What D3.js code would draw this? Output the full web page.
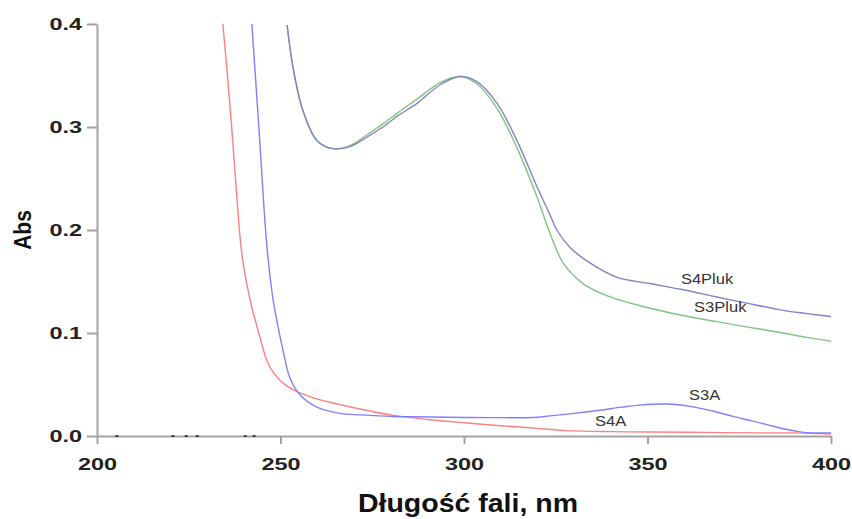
<!DOCTYPE html>
<html>
<head>
<meta charset="utf-8">
<script src="https://cdn.jsdelivr.net/npm/d3@7"></script>
<style>
  body { margin: 0; background: #fff; }
  svg { display: block; }
  .tick text { font-family: "Liberation Sans", Arial, sans-serif; font-weight: bold; fill: #222; }
</style>
</head>
<body>
<svg id="chart" width="852" height="519"></svg>
<script>

// wavelength (nm) / absorbance
const s4aWave = [234.3, 235.5, 236.6, 237.8, 239.0, 239.9, 240.9, 242.2, 243.6, 245.0, 246.3, 248.0, 249.9, 252.0, 254.5, 259, 264.3, 272, 280.7, 290, 300.8, 310, 318.8, 328.1, 340, 350.7, 365, 380, 390, 400]
const s4aAbs  = [0.400, 0.352, 0.304, 0.247, 0.192, 0.166, 0.146, 0.125, 0.106, 0.088, 0.073, 0.062, 0.054, 0.048, 0.043, 0.037, 0.032, 0.026, 0.020, 0.016, 0.0126, 0.010, 0.0078, 0.0052, 0.0042, 0.0039, 0.0035, 0.003, 0.003, 0.002]

const s3aWave = [242.2, 244.1, 246.3, 248.0, 250.7, 252.6, 255.3, 259.9, 266.2, 272, 280.7, 290, 300.8, 310, 318.8, 323.4, 330, 337, 343, 348, 355.3, 362, 368, 373.3, 378, 382.6, 387, 391.6, 395, 400]
const s3aAbs  = [0.400, 0.300, 0.184, 0.132, 0.083, 0.056, 0.040, 0.028, 0.022, 0.0205, 0.019, 0.0185, 0.018, 0.0178, 0.018, 0.0195, 0.022, 0.025, 0.028, 0.030, 0.031, 0.0285, 0.024, 0.019, 0.015, 0.011, 0.007, 0.004, 0.003, 0.003]

const s4plukWave = [251.8, 253.4, 256.1, 259.9, 264.3, 268.9, 273, 277.9, 282, 287.2, 293.5, 298.9, 303.5, 309, 314.4, 319.9, 323.4, 325.3, 328.9, 334.3, 341.7, 350.7, 359.7, 368.9, 377, 386.9, 393, 400]
const s4plukAbs  = [0.399, 0.358, 0.316, 0.287, 0.279, 0.281, 0.289, 0.300, 0.311, 0.323, 0.341, 0.349, 0.344, 0.323, 0.287, 0.242, 0.215, 0.200, 0.183, 0.168, 0.154, 0.148, 0.142, 0.135, 0.129, 0.122, 0.119, 0.116]

const s3plukWave = [251.8, 253.4, 256.1, 259.9, 264.3, 268.9, 273, 277.9, 282, 287.2, 293.5, 298.9, 303.5, 309, 314.4, 319.9, 323.4, 327, 332.4, 339.8, 350.7, 359.7, 368.9, 377, 386.9, 393, 400]
const s3plukAbs  = [0.399, 0.358, 0.316, 0.287, 0.279, 0.282, 0.291, 0.303, 0.314, 0.327, 0.343, 0.349, 0.342, 0.318, 0.280, 0.232, 0.197, 0.168, 0.148, 0.135, 0.124, 0.117, 0.111, 0.106, 0.100, 0.096, 0.092]

// tiny specks of baseline noise sitting on the x axis
const noiseWave = [205.4, 220.7, 224.3, 227.3, 240.4, 242.8]

const curveNames = ['S3Pluk', 'S4Pluk', 'S4A', 'S3A']
const labelWave  = [362.7, 359.1, 335.7, 361.3]
const labelAbs   = [0.1204, 0.1476, 0.0097, 0.035]

const xTicks = [200, 250, 300, 350, 400]
const yTicks = [0.0, 0.1, 0.2, 0.3, 0.4]

const series = [
	{ name : 'S3Pluk', wave : s3plukWave, abs : s3plukAbs, color : '#80c480' },
	{ name : 'S4Pluk', wave : s4plukWave, abs : s4plukAbs, color : '#8282c8' },
	{ name : 'S4A', wave : s4aWave, abs : s4aAbs, color : '#ff8080' },
	{ name : 'S3A', wave : s3aWave, abs : s3aAbs, color : '#8080ff' }
]

const svg = d3.select('#chart')

const x = d3.scaleLinear().domain([200, 400]).range([97, 831])
const y = d3.scaleLinear().domain([0, 0.4]).range([436, 24])

const tickStretch = 1.38

// axes
const xAxis = svg.append('g')
	.attr('transform', `translate(0,${y(0)})`)
	.call(d3.axisBottom(x).tickValues(xTicks).tickSize(8).tickSizeOuter(0).tickFormat(d3.format('d')))

xAxis.selectAll('text')
	.attr('y', 34)
	.attr('dy', 0)
	.attr('font-size', 17)
	.attr('transform', `scale(${tickStretch},1)`)

const yAxis = svg.append('g')
	.attr('transform', `translate(${x(200)},0)`)
	.call(d3.axisLeft(y).tickValues(yTicks).tickSize(10).tickSizeOuter(0).tickFormat(d3.format('.1f')))

yAxis.selectAll('text')
	.attr('x', -15 / tickStretch)
	.attr('font-size', 17)
	.attr('transform', `scale(${tickStretch},1)`)

svg.selectAll('.domain, .tick line')
	.attr('stroke', '#a3a3a3')
	.attr('stroke-width', 2)

svg.append('g')
	.selectAll('rect')
	.data(noiseWave)
	.enter()
	.append('rect')
	.attr('x', d => x(d) - 1.5)
	.attr('y', y(0) - 1)
	.attr('width', 3)
	.attr('height', 2)
	.attr('fill', '#444')

// curves
svg.append('clipPath').attr('id', 'plot-clip')
	.append('rect')
	.attr('x', x(200)).attr('y', y(0.4))
	.attr('width', x(400) - x(200)).attr('height', y(0) - y(0.4))

const line = d3.line()
	.x(d => x(d[0]))
	.y(d => y(d[1]))
	.curve(d3.curveCatmullRom.alpha(0.5))

svg.append('g')
	.attr('clip-path', 'url(#plot-clip)')
	.selectAll('path')
	.data(series)
	.enter()
	.append('path')
	.attr('d', s => line(d3.zip(s.wave, s.abs)))
	.attr('fill', 'none')
	.attr('stroke', s => s.color)
	.attr('stroke-width', 1.4)

// curve labels
const labelStretch = 1.18
svg.append('g')
	.selectAll('text')
	.data(curveNames)
	.enter()
	.append('text')
	.attr('transform', (d, i) => `translate(${x(labelWave[i])},${y(labelAbs[i])}) scale(${labelStretch},1)`)
	.attr('font-family', '"Liberation Sans", Arial, sans-serif')
	.attr('font-size', 14)
	.attr('fill', '#333')
	.text(d => d)

// axis titles
svg.append('text')
	.attr('transform', `translate(${(x(200) + x(400)) / 2 + 4},512) scale(1.14,1)`)
	.attr('text-anchor', 'middle')
	.attr('font-family', '"Liberation Sans", Arial, sans-serif')
	.attr('font-weight', 'bold')
	.attr('font-size', 25)
	.attr('fill', '#111')
	.text('Długość fali, nm')

svg.append('text')
	.attr('transform', 'translate(31,230) rotate(-90) scale(1,1.13)')
	.attr('text-anchor', 'middle')
	.attr('font-family', '"Liberation Sans", Arial, sans-serif')
	.attr('font-weight', 'bold')
	.attr('font-size', 21)
	.attr('fill', '#111')
	.text('Abs')

</script>
</body>
</html>
